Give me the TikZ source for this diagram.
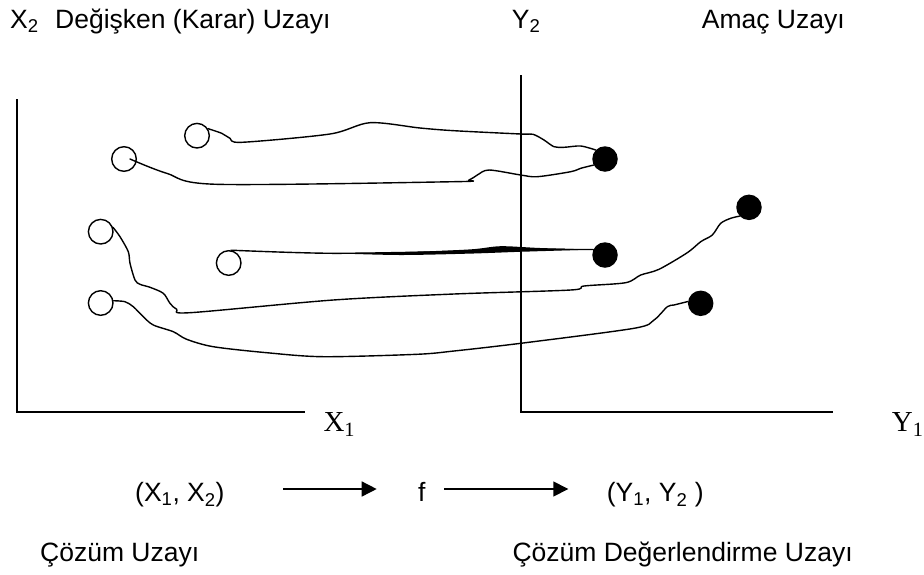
\documentclass[tikz,border=0pt]{standalone}
\usepackage{fontspec}
\setmainfont{Liberation Sans}
\newfontfamily\tnr{Liberation Serif}
\usetikzlibrary{arrows.meta,calc}
\begin{document}
\begin{tikzpicture}[x=1pt,y=-1pt,
  lbl/.style={inner sep=0pt,anchor=base west,font=\fontsize{26.5}{30}\selectfont},
  axlbl/.style={inner sep=0pt,anchor=base west,font=\tnr\fontsize{29}{32}\selectfont},
  axis/.style={line width=1.9pt},
  curve/.style={line width=1.4pt,line join=round,line cap=round},
  opendot/.style={circle,draw,line width=1.4pt,minimum size=24.6pt,inner sep=0pt},
  fulldot/.style={circle,fill=black,minimum size=25.5pt,inner sep=0pt},
  arr/.style={line width=1.5pt,-{Triangle[length=15pt,width=15pt]}}]
\useasboundingbox (0,0) rectangle (924,574);

% axes
\coordinate (ltop) at (16.7,99);
\coordinate (lorig) at (16.7,411.7);
\coordinate (lend) at (305,411.7);
\coordinate (rtop) at (520.7,75);
\coordinate (rorig) at (520.7,411.7);
\coordinate (rend) at (833.3,411.7);
\draw[axis] (ltop) -- (lorig) -- (lend);
\draw[axis] (rtop) -- (rorig) -- (rend);

% labels
\node[lbl] (x2) at (10,28.3) {X\textsubscript{2}};
\node[lbl] (dku) at (55,28.3) {Değişken (Karar) Uzayı};
\node[lbl] (y2) at (511.7,28.3) {Y\textsubscript{2}};
\node[lbl] (au) at (701.7,28.3) {Amaç Uzayı};
\node[axlbl] (x1) at (323.3,431.7) {X\textsubscript{1}};
\node[axlbl] (y1) at (891.7,431.7) {Y\textsubscript{1}};
\node[lbl] (x12) at (135,501.7) {(X\textsubscript{1}, X\textsubscript{2})};
\node[lbl] (fn) at (418,501.7) {f};
\node[lbl] (y12) at (606.7,501.7) {(Y\textsubscript{1}, Y\textsubscript{2} )};
\node[lbl] (cu) at (40,561.7) {Çözüm Uzayı};
\node[lbl] (cdu) at (512.3,561.7) {Çözüm Değerlendirme Uzayı};

\draw[arr] ([shift={(58.3,-12.7)}]x12.base east) -- ([shift={(-41.3,-12.7)}]fn.base west);
\draw[arr] ([shift={(18.3,-12.7)}]fn.base east) -- ([shift={(-38.4,-12.7)}]y12.base west);

% dots
\node[opendot] (o1) at (197,135.7) {};
\node[opendot] (o2) at (124,159) {};
\node[opendot] (o3) at (100.7,231.7) {};
\node[opendot] (o4) at (228.7,263) {};
\node[opendot] (o5) at (100.7,303) {};
\node[fulldot] (f1) at (605,159) {};
\node[fulldot] (f2) at (749,207.3) {};
\node[fulldot] (f3) at (605,255) {};
\node[fulldot] (f4) at (700.7,303.3) {};

% curves
\draw[curve] plot[smooth,tension=0.5] coordinates {(o1.33) (221.7,133.3) (230,138.3) (241.7,142.3) (330,134) (370,122.7) (420,128) (454,130.7) (520.7,134) (533,134.3) (544,140) (554,146.7) (564,147.3) (580.7,146) (f1.136)};
\draw[curve] plot[smooth,tension=0.5] coordinates {([xshift=6pt]o2.center) (166.7,173.3) (216.7,184.3) (454,181.7) (469,180) (477.3,175) (489,170) (520.7,175) (537.3,176.7) (570.7,171.7) (580.7,168.3) (f1.208)};
\draw[curve] plot[smooth,tension=0.5] coordinates {(o3.20) (120,236.7) (128.3,251.7) (130,263.3) (135,280) (140,284.3) (150,287.3) (163.3,293.3) (170,303.3) (176.7,309.3) (190,312.7) (333.3,300) (454,294) (570.7,290) (584,286) (625.7,282.7) (640.7,275) (659,269.3) (687.3,252.7) (700.7,241.7) (712.3,235) (720.7,223.3) (730.7,218.3) (f2.223)};
\draw[curve] plot[smooth,tension=0.5] coordinates {(o4.80) (333.3,253.3) (470,251) (500.7,248.5) (540,249.3) (f3.155)};
\fill plot[smooth,tension=0.5] coordinates {(333.3,253.3) (400,255) (470,253.6) (520,251.8) (f3.155)} -- plot[smooth,tension=0.5] coordinates {(f3.155) (540,248) (500.7,246.2) (470,249.4) (400,252.3) (333.3,253.3)} -- cycle;
\draw[curve] plot[smooth,tension=0.5] coordinates {(o5.10) (125,301.7) (133.3,306.7) (143.3,316.7) (153.3,325) (173.3,331.7) (186.7,339.3) (213.3,346.7) (266.7,352.7) (323.3,356.7) (416.7,354.3) (454,351) (520.7,343.3) (634,328.3) (654,320) (667.3,306.7) (674,305) (f4.172)};
\end{tikzpicture}
\end{document}
